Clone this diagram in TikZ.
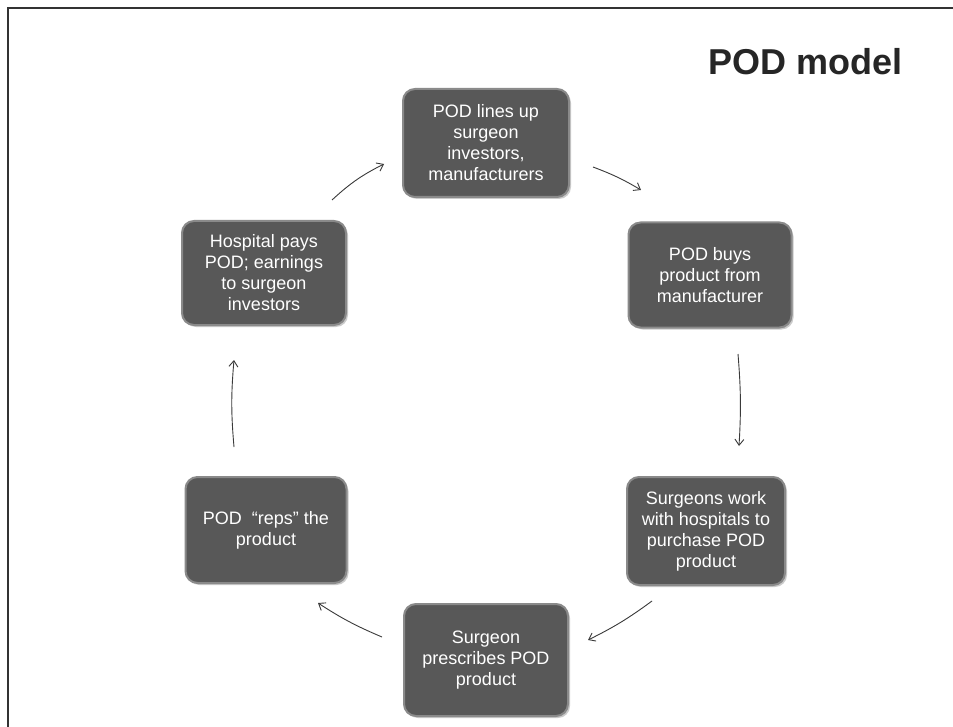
\documentclass[tikz,border=0pt]{standalone}
\usepackage{fontspec}
\setmainfont{Liberation Sans}
\usetikzlibrary{arrows.meta,shadows}
\definecolor{boxfill}{HTML}{585858}
\definecolor{boxedge}{HTML}{8A8A8A}
\definecolor{arrowcol}{HTML}{3A3A3A}
\tikzset{
  stepbox/.style={rounded corners=12pt, fill=boxfill, draw=boxedge, line width=2pt,
    text=white, align=center, font=\fontsize{18}{21}\selectfont, inner sep=0pt,
    drop shadow={shadow xshift=2pt, shadow yshift=-2pt, fill=black!40, opacity=0.5}},
  flow/.style={draw=arrowcol, line width=0.9pt, -{Straight Barb[length=6pt,width=9pt]}}
}
\begin{document}
\begin{tikzpicture}[x=1pt,y=-1pt]
\useasboundingbox (0,0) rectangle (953,727);
\fill[white] (0,0) rectangle (953,727);
\draw[line width=1.6pt, black!80] (8,727) -- (8,8) -- (953,8);
\node[font=\fontsize{36}{40}\selectfont\bfseries, text=black!85, anchor=east] (title) at (906,62) {POD model};

\node[stepbox, minimum width=166pt, minimum height=108pt] (top) at (486,143)
  {POD lines up\\surgeon\\investors,\\manufacturers};
\node[stepbox, minimum width=163pt, minimum height=105pt] (rt) at (710,275)
  {POD buys\\product from\\manufacturer};
\node[stepbox, minimum width=158pt, minimum height=108pt] (rb) at (706,531)
  {Surgeons work\\with hospitals to\\purchase POD\\product};
\node[stepbox, minimum width=164pt, minimum height=112pt] (bot) at (486,660)
  {Surgeon\\prescribes POD\\product};
\node[stepbox, minimum width=161pt, minimum height=106pt] (lb) at (266,530)
  {POD \ “reps” the\\product};
\node[stepbox, minimum width=164pt, minimum height=104pt] (lt) at (264,273)
  {Hospital pays\\POD; earnings\\to surgeon\\investors};

\coordinate (a1s) at (332,200); \coordinate (a1e) at (384,164);
\coordinate (a2s) at (593,167); \coordinate (a2e) at (641,190);
\coordinate (a3s) at (738,354); \coordinate (a3e) at (739,446);
\coordinate (a4s) at (652,601); \coordinate (a4e) at (588,640);
\coordinate (a5s) at (382,637); \coordinate (a5e) at (318,603);
\coordinate (a6s) at (234,447); \coordinate (a6e) at (234,360);

\draw[flow] (a1s) to[bend left=8] (a1e);
\draw[flow] (a2s) to[bend left=5] (a2e);
\draw[flow] (a3s) to[bend left=4] (a3e);
\draw[flow] (a4s) to[bend left=5] (a4e);
\draw[flow] (a5s) to[bend left=5] (a5e);
\draw[flow] (a6s) to[bend left=5] (a6e);
\end{tikzpicture}
\end{document}
